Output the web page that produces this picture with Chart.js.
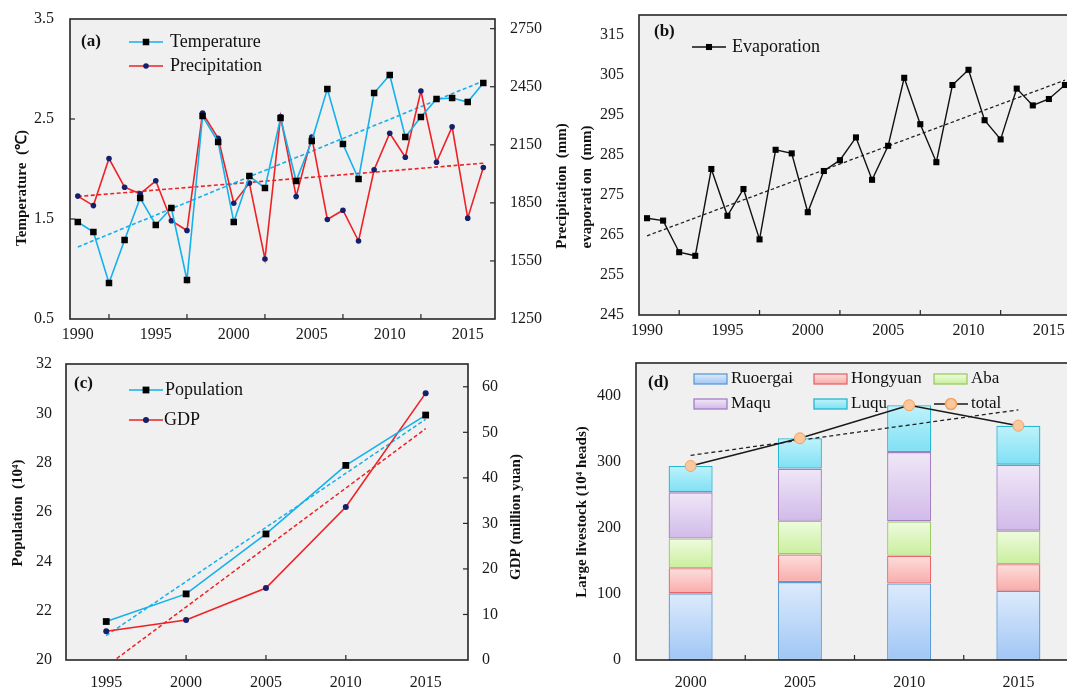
<!DOCTYPE html>
<html>
<head>
<meta charset="utf-8">
<script src="https://cdn.jsdelivr.net/npm/chart.js@4.4.1/dist/chart.umd.min.js"></script>
<style>
  html, body { margin: 0; padding: 0; background: #fff; overflow: hidden; }
  body { width: 1067px; height: 688px; position: relative; }
  canvas { position: absolute; }
</style>
</head>
<body>
<canvas id="chartA" width="578" height="345" style="left:0;top:0"></canvas>
<canvas id="chartB" width="510" height="345" style="left:575px;top:0"></canvas>
<canvas id="chartC" width="560" height="343" style="left:0;top:345px"></canvas>
<canvas id="chartD" width="525" height="343" style="left:560px;top:345px"></canvas>
<script>
// ---- data ----
const years = [1990, 1991, 1992, 1993, 1994, 1995, 1996, 1997, 1998, 1999, 2000, 2001, 2002, 2003,
  2004, 2005, 2006, 2007, 2008, 2009, 2010, 2011, 2012, 2013, 2014, 2015, 2016];
const temperature = [1.47, 1.37, 0.86, 1.29, 1.71, 1.44, 1.61, 0.89, 2.53, 2.27, 1.47, 1.93, 1.81, 2.51,
  1.88, 2.28, 2.80, 2.25, 1.90, 2.76, 2.94, 2.32, 2.52, 2.70, 2.71, 2.67, 2.86];
const precipitation = [1885, 1836, 2079, 1931, 1897, 1964, 1758, 1707, 2314, 2183, 1848, 1952, 1560, 2296,
  1883, 2190, 1764, 1812, 1653, 2021, 2210, 2086, 2428, 2060, 2243, 1771, 2033];
const evaporation = [269.2, 268.6, 260.7, 259.8, 281.5, 269.8, 276.5, 263.9, 286.3, 285.4, 270.7, 281.0, 283.7, 289.4,
  278.8, 287.3, 304.3, 292.7, 283.2, 302.5, 306.3, 293.7, 288.9, 301.6, 297.4, 299.0, 302.5];
const trendYears = [1990, 2016];
const tempTrend = [1.22, 2.88];
const precipTrend = [1883, 2055];
const evapTrend = [264.8, 303.7];

const censusYears = [1995, 2000, 2005, 2010, 2015];
const population = [21.56, 22.68, 25.11, 27.89, 29.93];
const gdp = [6.3, 8.8, 15.8, 33.6, 58.6];
const censusTrendYears = [1995, 2015];
const popTrend = [20.99, 29.76];
const gdpTrend = [-1.4, 50.8];

const livestockYears = ['2000', '2005', '2010', '2015'];
const ruoergai = [101, 118, 116, 105];
const hongyuan = [38, 42, 42, 40];
const aba = [45, 51, 52, 51];
const maqu = [70, 79, 105, 100];
const luqu = [40, 46, 71, 59];
const total = [294, 336, 386, 355];
const livestockTrend = [310, null, null, 379];

const yearTicks = [1990, 1995, 2000, 2005, 2010, 2015];
const tempTicks = [0.5, 1.5, 2.5, 3.5];
const precipTicks = [1250, 1550, 1850, 2150, 2450, 2750];
const evapTicks = [245, 255, 265, 275, 285, 295, 305, 315];
const popTicks = [20, 22, 24, 26, 28, 30, 32];
const gdpTicks = [0, 10, 20, 30, 40, 50, 60];
const livestockTicks = [0, 100, 200, 300, 400];

// ---- shared look ----
const SERIF = '"Liberation Serif", "Times New Roman", serif';
const CYAN = '#14B1EC';
const RED = '#EE2226';
const NAVY = '#14206B';

Chart.defaults.font.family = SERIF;
Chart.defaults.font.size = 16;
Chart.defaults.color = '#1a1a1a';
Chart.defaults.animation = false;
Chart.defaults.plugins.legend.display = false;
Chart.defaults.plugins.tooltip.enabled = false;

function pts(xs, ys) {
  return xs.map((x, i) => ({ x: x, y: ys[i] }));
}

function scale(o) {
  const s = {
    type: o.type || 'linear',
    position: o.position,
    grid: { display: false, drawTicks: false },
    border: { display: false },
    ticks: { padding: o.padding, autoSkip: false, maxRotation: 0, color: '#1a1a1a' },
    afterFit: (sc) => {
      if (sc.isHorizontal()) sc.height = o.size; else sc.width = o.size;
      // keep the plot area exactly where the layout puts it
      sc.paddingTop = 0; sc.paddingBottom = 0; sc.paddingLeft = 0; sc.paddingRight = 0;
    }
  };
  if (o.min !== undefined) s.min = o.min;
  if (o.max !== undefined) s.max = o.max;
  if (o.stacked) s.stacked = true;
  if (o.values) {
    s.afterBuildTicks = (sc) => { sc.ticks = o.values.map(v => ({ value: v })); };
    s.ticks.callback = (v) => String(v);
  }
  return s;
}

// bar colours: top of gradient, bottom of gradient, outline
const barStyles = [
  ['#DDEBFC', '#A0C6F5', '#5B9BD5'],
  ['#FDDEDC', '#F8ACAA', '#E5676A'],
  ['#EFFBE0', '#C9EF9C', '#9CCB68'],
  ['#F0E7F7', '#D1BAE9', '#A47FC4'],
  ['#BFF2FB', '#7EE0F4', '#27B5CF']
];

function barFill(k) {
  return function (c) {
    const chart = c.chart;
    if (c.type !== 'data' || !chart.chartArea) return barStyles[k][1];
    const y = chart.scales.y;
    let base = 0;
    for (let d = 0; d < c.datasetIndex; d++) base += chart.data.datasets[d].data[c.dataIndex];
    const v = chart.data.datasets[c.datasetIndex].data[c.dataIndex];
    const g = chart.ctx.createLinearGradient(0, y.getPixelForValue(base + v), 0, y.getPixelForValue(base));
    g.addColorStop(0, barStyles[k][0]);
    g.addColorStop(1, barStyles[k][1]);
    return g;
  };
}

// background, frame, inward ticks, axis titles, panel tag and legend
const deco = {
  id: 'deco',
  beforeDraw(chart, args, o) {
    const ctx = chart.ctx, a = chart.chartArea;
    ctx.save();
    ctx.fillStyle = '#F0F0F0';
    ctx.fillRect(a.left, a.top, a.right - a.left, a.bottom - a.top);
    ctx.restore();
  },
  afterDraw(chart, args, o) {
    const ctx = chart.ctx, a = chart.chartArea;
    ctx.save();
    ctx.strokeStyle = '#262626';
    ctx.lineWidth = 1.6;
    ctx.strokeRect(a.left, a.top, a.right - a.left, a.bottom - a.top);

    ctx.lineWidth = 1.2;
    (o.marks || []).forEach(m => {
      const s = chart.scales[m.axis];
      m.values.forEach(v => {
        const p = s.getPixelForValue(v);
        ctx.beginPath();
        if (s.isHorizontal()) { ctx.moveTo(p, a.bottom); ctx.lineTo(p, a.bottom - 5); }
        else if (s.position === 'left') { ctx.moveTo(a.left, p); ctx.lineTo(a.left + 5, p); }
        else { ctx.moveTo(a.right, p); ctx.lineTo(a.right - 5, p); }
        ctx.stroke();
      });
    });

    ctx.fillStyle = '#111';
    ctx.textBaseline = 'middle';
    ctx.textAlign = 'center';
    ctx.font = 'bold 15px ' + SERIF;
    (o.titles || []).forEach(t => {
      ctx.save();
      ctx.translate(t.x, t.y);
      ctx.rotate(-Math.PI / 2);
      ctx.fillText(t.text, 0, 0);
      ctx.restore();
    });

    ctx.textAlign = 'left';
    ctx.font = 'bold 17px ' + SERIF;
    ctx.fillText(o.tag.text, o.tag.x, o.tag.y);

    ctx.font = (o.legendSize || 18) + 'px ' + SERIF;
    (o.legend || []).forEach(it => {
      const ds = chart.data.datasets[it.ds];
      if (it.box) {
        const st = barStyles[it.ds];
        const g = ctx.createLinearGradient(0, it.y - 5, 0, it.y + 5);
        g.addColorStop(0, st[0]);
        g.addColorStop(1, st[1]);
        ctx.fillStyle = g;
        ctx.fillRect(it.x, it.y - 5, 33, 10);
        ctx.strokeStyle = st[2];
        ctx.lineWidth = 1.3;
        ctx.strokeRect(it.x, it.y - 5, 33, 10);
      } else {
        ctx.strokeStyle = ds.borderColor;
        ctx.lineWidth = ds.borderWidth;
        ctx.beginPath();
        ctx.moveTo(it.x, it.y);
        ctx.lineTo(it.x + 34, it.y);
        ctx.stroke();
        ctx.fillStyle = ds.pointBackgroundColor;
        ctx.strokeStyle = ds.pointBorderColor;
        Chart.helpers.drawPoint(ctx, {
          pointStyle: ds.pointStyle, radius: ds.pointRadius, rotation: 0,
          borderWidth: ds.pointBorderWidth || 0
        }, it.x + 17, it.y);
      }
      ctx.fillStyle = '#111';
      ctx.fillText(ds.label, it.tx, it.y);
    });
    ctx.restore();
  }
};

// ---- (a) temperature and precipitation ----
new Chart(document.getElementById('chartA'), {
  type: 'line',
  data: {
    datasets: [
      {
        label: 'Temperature', data: pts(years, temperature), yAxisID: 'y',
        borderColor: CYAN, borderWidth: 1.6, pointStyle: 'rect', pointRadius: 4.6,
        pointBackgroundColor: '#000', pointBorderColor: '#000', pointBorderWidth: 0
      },
      {
        label: 'Precipitation', data: pts(years, precipitation), yAxisID: 'y2',
        borderColor: RED, borderWidth: 1.6, pointStyle: 'circle', pointRadius: 2.8,
        pointBackgroundColor: NAVY, pointBorderColor: NAVY, pointBorderWidth: 0
      },
      {
        label: 'T trend', data: pts(trendYears, tempTrend), yAxisID: 'y',
        borderColor: CYAN, borderWidth: 1.6, borderDash: [4, 2.5], pointRadius: 0
      },
      {
        label: 'P trend', data: pts(trendYears, precipTrend), yAxisID: 'y2',
        borderColor: RED, borderWidth: 1.6, borderDash: [4, 2.5], pointRadius: 0
      }
    ]
  },
  options: {
    responsive: false,
    layout: { padding: { top: 19 } },
    scales: {
      x: scale({ position: 'bottom', min: 1989.5, max: 2016.75, values: yearTicks, padding: 6, size: 26 }),
      y: scale({ position: 'left', min: 0.5, max: 3.5, values: tempTicks, padding: 16, size: 70 }),
      y2: scale({ position: 'right', min: 1250, max: 2800, values: precipTicks, padding: 15, size: 83 })
    },
    plugins: {
      deco: {
        tag: { text: '(a)', x: 81, y: 42 },
        titles: [
          { text: 'Temperature\u00a0 (\u2103)', x: 22, y: 188 },
          { text: 'Precipitation\u00a0 (mm)', x: 562, y: 186 }
        ],
        marks: [
          { axis: 'x', values: [1992, 1997, 2002, 2007, 2012] },
          { axis: 'y', values: [1.5, 2.5] },
          { axis: 'y2', values: [1550, 1850, 2150, 2450, 2750] }
        ],
        legend: [
          { ds: 0, x: 129, tx: 170, y: 42 },
          { ds: 1, x: 129, tx: 170, y: 66 }
        ]
      }
    }
  },
  plugins: [deco]
});

// ---- (b) evaporation ----
new Chart(document.getElementById('chartB'), {
  type: 'line',
  data: {
    datasets: [
      {
        label: 'Evaporation', data: pts(years, evaporation),
        borderColor: '#111', borderWidth: 1.4, pointStyle: 'rect', pointRadius: 4.3,
        pointBackgroundColor: '#000', pointBorderColor: '#000', pointBorderWidth: 0
      },
      {
        label: 'E trend', data: pts(trendYears, evapTrend),
        borderColor: '#222', borderWidth: 1.3, borderDash: [3.5, 2.5], pointRadius: 0
      }
    ]
  },
  options: {
    responsive: false,
    layout: { padding: { top: 15, right: 8 } },
    scales: {
      x: scale({ position: 'bottom', min: 1989.5, max: 2016.75, values: yearTicks, padding: 6, size: 30 }),
      y: scale({ position: 'left', min: 245, max: 320, values: evapTicks, padding: 15, size: 64 })
    },
    plugins: {
      deco: {
        tag: { text: '(b)', x: 79, y: 32 },
        titles: [{ text: 'evaporati on\u00a0 (mm)', x: 12.5, y: 187 }],
        marks: [{ axis: 'x', values: [1992, 1997, 2002, 2007, 2012] }],
        legend: [{ ds: 0, x: 117, tx: 157, y: 47 }]
      }
    }
  },
  plugins: [deco]
});

// ---- (c) population and GDP ----
new Chart(document.getElementById('chartC'), {
  type: 'line',
  data: {
    datasets: [
      {
        label: 'Population', data: pts(censusYears, population), yAxisID: 'y',
        borderColor: CYAN, borderWidth: 1.6, pointStyle: 'rect', pointRadius: 4.8,
        pointBackgroundColor: '#000', pointBorderColor: '#000', pointBorderWidth: 0
      },
      {
        label: 'GDP', data: pts(censusYears, gdp), yAxisID: 'y2',
        borderColor: RED, borderWidth: 1.6, pointStyle: 'circle', pointRadius: 3,
        pointBackgroundColor: NAVY, pointBorderColor: NAVY, pointBorderWidth: 0
      },
      {
        label: 'Pop trend', data: pts(censusTrendYears, popTrend), yAxisID: 'y',
        borderColor: CYAN, borderWidth: 1.5, borderDash: [4, 2.5], pointRadius: 0
      },
      {
        label: 'GDP trend', data: pts(censusTrendYears, gdpTrend), yAxisID: 'y2',
        borderColor: RED, borderWidth: 1.5, borderDash: [4, 2.5], pointRadius: 0
      }
    ]
  },
  options: {
    responsive: false,
    layout: { padding: { top: 19 } },
    scales: {
      x: scale({ position: 'bottom', min: 1992.48, max: 2017.65, values: censusYears, padding: 13, size: 28 }),
      y: scale({ position: 'left', min: 20, max: 32, values: popTicks, padding: 14, size: 66 }),
      y2: scale({ position: 'right', min: 0, max: 65, values: gdpTicks, padding: 14, size: 92 })
    },
    plugins: {
      deco: {
        tag: { text: '(c)', x: 74, y: 39 },
        titles: [
          { text: 'Population\u00a0 (10\u2074)', x: 18, y: 168 },
          { text: 'GDP (million yuan)', x: 516, y: 172 }
        ],
        marks: [
          { axis: 'x', values: [2000, 2005, 2010] },
          { axis: 'y2', values: [10, 20, 30, 40, 50, 60] }
        ],
        legend: [
          { ds: 0, x: 129, tx: 165, y: 45 },
          { ds: 1, x: 129, tx: 164, y: 75 }
        ]
      }
    }
  },
  plugins: [deco]
});

// ---- (d) large livestock ----
const herds = [
  ['Ruoergai', ruoergai], ['Hongyuan', hongyuan], ['Aba', aba], ['Maqu', maqu], ['Luqu', luqu]
];
new Chart(document.getElementById('chartD'), {
  type: 'bar',
  data: {
    labels: livestockYears,
    datasets: herds.map((h, k) => ({
      label: h[0], data: h[1], stack: 'herd', order: 1,
      backgroundColor: barFill(k), borderColor: barStyles[k][2], borderWidth: 1.3,
      borderSkipped: false, barPercentage: 0.403, categoryPercentage: 1
    })).concat([
      {
        type: 'line', label: 'total', data: total, stack: 'total', order: 0,
        borderColor: '#1a1a1a', borderWidth: 1.6, pointStyle: 'circle', pointRadius: 5.5,
        pointBackgroundColor: '#FBC79C', pointBorderColor: '#F4A25E', pointBorderWidth: 1
      },
      {
        type: 'line', label: 'trend', data: livestockTrend, stack: 'trend', order: 0,
        spanGaps: true, borderColor: '#222', borderWidth: 1.3, borderDash: [4, 3], pointRadius: 0
      }
    ])
  },
  options: {
    responsive: false,
    layout: { padding: { top: 18, right: 12 } },
    scales: {
      x: scale({ type: 'category', position: 'bottom', padding: 13, size: 28, stacked: true }),
      y: scale({ position: 'left', min: 0, max: 450, values: livestockTicks, padding: 15, size: 76, stacked: true })
    },
    plugins: {
      deco: {
        tag: { text: '(d)', x: 88, y: 38 },
        titles: [{ text: 'Large livestock (10\u2074 heads)', x: 22.5, y: 167 }],
        marks: [{ axis: 'x', values: [0.5, 1.5, 2.5] }],
        legendSize: 17,
        legend: [
          { ds: 0, box: true, x: 134, tx: 171, y: 34 },
          { ds: 1, box: true, x: 254, tx: 291, y: 34 },
          { ds: 2, box: true, x: 374, tx: 411, y: 34 },
          { ds: 3, box: true, x: 134, tx: 171, y: 59 },
          { ds: 4, box: true, x: 254, tx: 291, y: 59 },
          { ds: 5, x: 374, tx: 411, y: 59 }
        ]
      }
    }
  },
  plugins: [deco]
});
</script>
</body>
</html>
